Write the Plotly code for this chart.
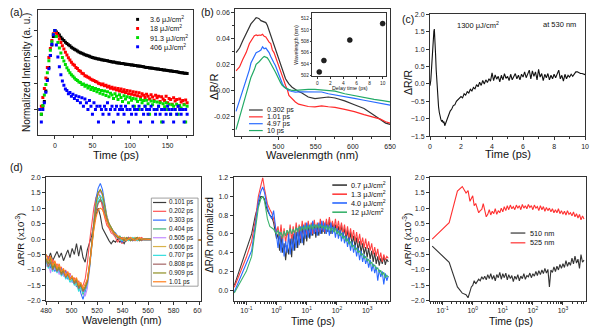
import plotly.graph_objects as go

W, H = 597, 330
FONT = "Liberation Sans, Arial, sans-serif"
AXC = "#333333"

# ---------------- (a) PL decay (log10 of normalized intensity) ----------------
t_a = [-20,-18,-16,-14,-12,-10,-8,-6,-4,-2,0,2,4,6,8,10,12,14,16,18,20,22,24,26,28,30,32,34,36,38,40,
       42,44,46,48,50,52,54,56,58,60,62,64,66,68,70,72,74,76,78,80,82,84,86,88,90,92,94,96,98,100,
       102,104,106,108,110,112,114,116,118,120,122,124,126,128,130,132,134,136,138,140,142,144,146,148,150,
       152,154,156,158,160,162,164,166,168,170,172,174,176]
a_labels = ["3.6 μJ/cm<sup>2</sup>", "18 μJ/cm<sup>2</sup>", "91.3 μJ/cm<sup>2</sup>", "406 μJ/cm<sup>2</sup>"]
a_colors = ["#000000", "#ff0000", "#00dd00", "#0000ff"]
a_black = [-3.00,-3.18,-2.88,-2.70,-2.30,-1.85,-1.40,-0.95,-0.55,-0.22,0.00,
 -0.05,-0.11,-0.17,-0.25,-0.32,-0.38,-0.44,-0.49,-0.54,-0.58,
 -0.63,-0.67,-0.71,-0.74,-0.78,-0.81,-0.84,-0.86,-0.89,-0.92,
 -0.94,-0.96,-0.98,-1.00,-1.02,-1.04,-1.05,-1.07,-1.08,-1.09,
 -1.11,-1.12,-1.13,-1.14,-1.15,-1.17,-1.18,-1.19,-1.19,-1.20,
 -1.22,-1.23,-1.23,-1.25,-1.25,-1.26,-1.28,-1.28,-1.29,-1.30,
 -1.31,-1.31,-1.33,-1.33,-1.35,-1.35,-1.36,-1.37,-1.38,-1.39,
 -1.40,-1.40,-1.42,-1.42,-1.43,-1.44,-1.45,-1.46,-1.46,-1.48,
 -1.48,-1.50,-1.50,-1.51,-1.52,-1.53,-1.54,-1.54,-1.56,-1.56,
 -1.57,-1.58,-1.59,-1.60,-1.60,-1.62,-1.62,-1.63]
a_red = [-3.00,-2.88,-2.55,-2.20,-1.80,-1.40,-1.02,-0.68,-0.38,-0.12,0.00,
 -0.10,-0.20,-0.32,-0.45,-0.58,-0.70,-0.82,-0.93,-1.03,-1.12,
 -1.20,-1.28,-1.32,-1.40,-1.44,-1.52,-1.55,-1.62,-1.64,-1.72,
 -1.74,-1.78,-1.80,-1.85,-1.88,-1.90,-1.94,-1.96,-2.00,-2.02,
 -2.06,-2.03,-2.10,-2.08,-2.15,-2.12,-2.19,-2.16,-2.22,-2.18,
 -2.26,-2.20,-2.30,-2.22,-2.33,-2.25,-2.36,-2.28,-2.40,-2.30,
 -2.42,-2.33,-2.45,-2.35,-2.48,-2.37,-2.52,-2.40,-2.46,-2.55,
 -2.42,-2.50,-2.60,-2.44,-2.53,-2.65,-2.46,-2.56,-2.50,-2.70,
 -2.52,-2.60,-2.66,-2.50,-2.75,-2.58,-2.62,-2.80,-2.56,-2.68,
 -2.62,-2.88,-2.60,-2.72,-2.66,-2.80,-2.64,-2.75]
a_green = [-3.00,-3.18,-2.85,-2.45,-2.05,-1.60,-1.15,-0.75,-0.42,-0.15,0.00,
 -0.22,-0.45,-0.66,-0.85,-1.02,-1.16,-1.29,-1.41,-1.51,-1.60,
 -1.68,-1.74,-1.80,-1.86,-1.90,-1.96,-1.98,-2.05,-2.03,-2.12,
 -2.08,-2.18,-2.12,-2.24,-2.17,-2.28,-2.20,-2.33,-2.24,-2.38,
 -2.28,-2.42,-2.30,-2.47,-2.33,-2.52,-2.38,-2.45,-2.58,-2.40,
 -2.50,-2.62,-2.44,-2.55,-2.70,-2.48,-2.60,-2.52,-2.75,-2.55,
 -2.65,-2.58,-2.88,-2.60,-2.70,-3.00,-2.62,-2.75,-2.66,-2.88,
 -2.65,-2.78,-3.18,-2.68,-2.82,-2.70,-3.00,-2.72,-2.88,-2.75,
 -3.48,-2.78,-2.90,-2.75,-3.00,-2.80,-3.18,-2.82,-2.88,-3.00,
 -2.80,-3.18,-2.85,-2.95,-3.00,-2.82,-3.48,-2.88]
a_blue = [-3.00,-3.48,-3.00,-2.75,-2.35,-1.90,-1.45,-0.95,-0.52,-0.16,0.00,
 -0.55,-1.00,-1.38,-1.68,-1.92,-2.08,-2.22,-2.28,-2.40,-2.36,
 -2.50,-2.42,-2.58,-2.48,-2.66,-2.52,-2.75,-2.56,-2.88,-2.60,
 -2.75,-3.00,-2.66,-2.88,-3.18,-2.75,-3.00,-2.88,-3.48,-2.88,
 -3.00,-3.18,-2.88,-3.00,-2.75,-3.18,-3.00,-2.88,-3.48,-3.00,
 -2.88,-3.18,-3.00,-2.88,-3.00,-3.18,-2.88,-3.00,-3.48,-3.00,
 -3.18,-2.88,-3.00,-3.18,-3.00,-2.88,-3.48,-3.00,-3.18,-2.88,
 -3.00,-3.18,-3.00,-2.88,-3.48,-3.00,-3.18,-3.00,-2.88,-3.18,
 -3.00,-3.48,-3.00,-3.18,-2.88,-3.00,-3.18,-3.00,-3.48,-3.00,
 -3.18,-2.88,-3.00,-3.18,-3.00,-3.48,-3.00,-3.18]

# ---------------- (b) spectra ----------------
b_labels = ["0.302 ps", "1.01 ps", "4.97 ps", "10 ps"]
b_colors = ["#333333", "#ff2a2a", "#2a6cff", "#22aa66"]
b_wl_black = [443,447.7,452,456.6,461,463,467.6,470,472,474,476.4,478.6,481,483,485,487.4,489.6,491.8,494,496,498.4,500.6,502.8,505,507.3,509.5,511.7,514,518.3,522.7,527,531.5,540,549,558,567,576,589,602,615,628.5,637,644,650]
b_val_black = [0.029,0.0325,0.038,0.044,0.049,0.051,0.054,0.0558,0.0555,0.055,0.0535,0.053,0.0525,0.052,0.050,0.046,0.042,0.039,0.036,0.032,0.028,0.024,0.020,0.016,0.0125,0.009,0.007,0.005,0.0025,0.0007,-0.0008,-0.002,-0.005,-0.0063,-0.0055,-0.005,-0.0058,-0.008,-0.011,-0.0138,-0.019,-0.0225,-0.025,-0.026]
b_wl_red = [443,447.7,452,456.6,461,465,467.6,470,472,474,476.4,478.6,480.8,483,485,487.4,489.6,491.8,494,496,498.4,500.6,502.8,505,507.3,509.5,512,514,518.3,522.7,527,531.5,540,549,558,567,576,589,602,615,628.5,637,644,650]
b_val_red = [0.015,0.018,0.0238,0.029,0.036,0.040,0.042,0.0425,0.042,0.0425,0.0423,0.043,0.0415,0.041,0.039,0.037,0.036,0.031,0.029,0.026,0.021,0.018,0.015,0.011,0.0075,0.0038,0.0005,-0.0038,-0.0065,-0.0088,-0.0105,-0.0113,-0.0123,-0.0125,-0.0118,-0.0125,-0.013,-0.0145,-0.0162,-0.0185,-0.0205,-0.022,-0.024,-0.025]
b_wl_blue = [443,447.7,450,452,456.6,461,463,467.6,470,474,476.4,478.6,480.8,483,485,487.4,489.6,491.8,494,496,498.4,500.6,502.8,505,507.3,509.5,514,518.3,522.7,531.5,540,549,558,567,589,602,615,628.5,640,650]
b_val_blue = [-0.016,-0.008,-0.004,0.0,0.0088,0.016,0.021,0.026,0.029,0.030,0.031,0.0335,0.032,0.0325,0.031,0.029,0.026,0.024,0.021,0.019,0.015,0.012,0.0088,0.0055,0.003,0.0018,0.0,-0.0008,-0.0012,-0.0010,-0.0009,-0.0010,-0.0012,-0.0025,-0.0045,-0.0060,-0.0075,-0.009,-0.0103,-0.0113]
b_wl_green = [443,447.7,452,456.6,461,463,467.6,470,474,476.4,478.6,480.8,483,485,487.4,489.6,491.8,494,496,498.4,500.6,502.8,505,507.3,509.5,514,518.3,522.7,531.5,540,549,558,567,576,589,602,615,628.5,640,650]
b_val_green = [-0.030,-0.021,-0.012,-0.0025,0.006,0.010,0.016,0.020,0.022,0.024,0.025,0.026,0.0255,0.025,0.023,0.021,0.019,0.016,0.014,0.011,0.008,0.006,0.004,0.0025,0.0018,0.0008,0.0,0.0,0.0005,0.0008,0.0008,0.0005,0.0,-0.0005,-0.0025,-0.0040,-0.0055,-0.0068,-0.0078,-0.0088]
inset_delay = [0.3, 1.01, 4.97, 10]
inset_peak = [502.6, 504.6, 508.2, 511.1]

# ---------------- (c) kinetics at 530 nm ----------------
t_c = [0,0.05,0.1,0.15,0.2,0.25,0.28,0.32,0.36,0.4,0.45,0.5,0.55,0.6,0.65,0.7,0.75,0.8,0.85,0.9,0.95,1.0,1.05,1.1,
       1.2,1.3,1.4,1.5,1.6,1.7,1.8,1.9,2.0,2.1,2.2,2.3,2.4,2.5,2.6,2.7,2.8,2.9,3.0,3.1,3.2,3.3,3.4,3.5,3.6,3.7,3.8,3.9,
       4.0,4.1,4.2,4.3,4.4,4.5,4.6,4.7,4.8,4.9,5.0,5.1,5.2,5.3,5.4,5.5,5.6,5.7,5.8,5.9,6.0,6.1,6.2,6.3,6.4,6.5,6.6,6.7,6.8,6.9,
       7.0,7.1,7.2,7.3,7.4,7.5,7.6,7.7,7.8,7.9,8.0,8.1,8.2,8.3,8.4,8.5,8.6,8.7,8.8,8.9,9.0,9.1,9.2,9.3,9.4,9.5,9.6,9.7,9.8,9.9,10.0]
v_c = [-0.05,0.1,0.45,0.95,1.3,1.52,1.58,1.3,0.85,0.4,-0.05,-0.4,-0.65,-0.82,-0.95,-1.02,-1.08,-1.04,-1.12,-1.08,-1.2,-1.15,-1.05,-1.0,
       -0.9,-0.78,-0.72,-0.62,-0.6,-0.5,-0.46,-0.4,-0.36,-0.4,-0.28,-0.32,-0.22,-0.26,-0.15,-0.2,-0.1,-0.14,-0.02,-0.08,0.05,-0.04,0.1,0.0,0.12,0.04,0.15,0.08,
       0.32,0.1,0.26,0.14,0.22,0.06,0.25,0.12,0.3,0.16,0.22,0.1,0.28,0.12,0.22,0.3,0.15,0.25,0.12,0.28,0.2,0.35,0.18,0.3,0.4,0.15,0.38,0.22,0.35,0.12,
       0.42,0.2,0.3,0.1,0.28,0.18,0.3,0.12,0.25,0.15,0.28,0.18,0.3,0.4,0.15,0.25,0.08,0.28,0.15,0.25,0.2,0.28,0.22,0.3,0.35,0.35,0.32,0.3,0.3,0.28,0.27]

# ---------------- (d) left: spectra at early delays (x1e-3) ----------------
wl_d = [480.0,481.7,483.4,485.1,486.8,488.5,490.2,491.9,493.6,495.3,497.0,498.7,500.4,502.1,503.8,505.5,507.2,508.9,510.6,512.3,
        514.0,515.7,517.4,519.1,520.8,522.5,524.2,525.9,527.6,529.3,531.0,532.7,534.4,536.1,537.8,539.5,541.2,542.9,544.6,546.3,
        548.0,549.7,551.4,553.1,554.8,556.5,565,573,581,589,596,601.5]
d_labels = ["0.101 ps","0.202 ps","0.303 ps","0.404 ps","0.505 ps","0.606 ps","0.707 ps","0.808 ps","0.909 ps","1.01 ps"]
d_colors = ["#3b3b3b","#ff5252","#2f6dff","#3fb273","#c28cff","#d9b24a","#33dede","#a36464","#8f8f22","#ff7f1e"]
d_vals = [
 [-0.5,-0.65,-0.45,-0.7,-0.55,-0.4,-0.6,-0.45,-0.7,-0.5,-0.35,-0.6,-0.3,-0.5,-0.15,-0.55,-0.2,-0.6,-0.75,-0.35,
  -0.1,0.1,0.45,0.8,1.0,0.75,0.35,0.2,0.1,-0.05,-0.15,-0.05,-0.1,0.0,-0.1,-0.05,-0.15,0.0,-0.05,0.0,
  -0.05,0.0,-0.05,0.0,0.0,-0.03,-0.03,0.0,-0.03,0.0,-0.03,-0.03],
 [-0.7,-0.55,-0.85,-0.65,-0.95,-0.8,-1.0,-0.9,-1.15,-1.0,-1.25,-1.1,-1.35,-1.25,-1.45,-1.35,-1.55,-1.5,-1.3,-0.8,
  -0.1,0.5,1.0,1.35,1.5,1.35,1.0,0.7,0.45,0.35,0.2,0.15,0.05,-0.1,0.05,-0.15,0.0,-0.05,0.05,-0.05,
  0.0,0.05,-0.05,0.0,0.05,0.0,0.0,-0.02,0.0,-0.02,-0.03,-0.03],
 [-0.8,-0.6,-0.95,-0.75,-1.05,-0.9,-1.1,-0.95,-1.2,-1.05,-1.3,-1.2,-1.4,-1.3,-1.55,-1.45,-1.75,-1.95,-1.7,-1.45,
  -0.9,-0.1,0.7,1.3,1.65,1.8,1.6,1.15,0.75,0.5,0.35,0.25,0.2,0.1,0.05,-0.1,0.0,-0.05,0.05,-0.05,
  0.0,-0.05,0.05,0.0,-0.05,0.0,-0.02,0.0,-0.02,-0.03,-0.03,-0.03],
 [-0.65,-0.85,-0.7,-0.95,-0.8,-1.05,-0.9,-1.1,-1.0,-1.25,-1.1,-1.3,-1.2,-1.45,-1.35,-1.65,-1.5,-1.8,-1.6,-1.35,
  -0.8,-0.15,0.5,0.95,1.2,1.3,1.2,0.9,0.6,0.45,0.3,0.25,0.15,0.05,0.1,0.0,0.05,-0.05,0.0,0.05,
  -0.05,0.0,0.05,-0.05,0.0,0.02,0.0,-0.02,0.0,-0.03,-0.03,-0.03],
 [-0.9,-0.7,-1.1,-0.8,-1.0,-0.85,-1.15,-1.0,-1.2,-1.1,-1.25,-1.15,-1.4,-1.3,-1.5,-1.4,-1.65,-1.55,-1.85,-1.6,
  -1.0,-0.2,0.55,1.1,1.45,1.55,1.4,1.0,0.7,0.5,0.3,0.2,0.15,0.05,0.0,0.05,-0.05,0.0,0.05,0.0,
  -0.05,0.05,0.0,-0.05,0.0,0.0,0.0,-0.02,-0.02,0.0,-0.03,-0.03],
 [-0.6,-0.8,-0.65,-0.9,-0.75,-1.0,-0.85,-1.15,-1.05,-1.2,-1.15,-1.35,-1.25,-1.4,-1.5,-1.4,-1.6,-1.7,-1.55,-1.4,
  -0.85,-0.1,0.6,1.15,1.5,1.6,1.45,1.05,0.7,0.5,0.35,0.25,0.15,0.1,0.0,0.05,-0.05,0.05,0.0,-0.05,
  0.0,0.05,0.0,0.0,-0.05,0.0,-0.02,0.0,-0.02,0.0,-0.03,-0.03],
 [-0.75,-0.95,-0.8,-1.05,-0.85,-1.1,-0.95,-1.2,-1.05,-1.3,-1.2,-1.4,-1.3,-1.5,-1.4,-1.7,-1.55,-1.75,-1.65,-1.45,
  -0.95,-0.25,0.5,1.0,1.3,1.4,1.3,0.95,0.65,0.45,0.3,0.2,0.1,0.05,0.0,-0.05,0.05,0.0,-0.05,0.0,
  0.05,0.0,-0.05,0.0,0.0,-0.02,-0.02,-0.02,0.0,-0.02,-0.03,-0.03],
 [-0.7,-0.9,-0.75,-1.0,-0.85,-1.05,-0.95,-1.15,-1.05,-1.25,-1.15,-1.3,-1.25,-1.45,-1.35,-1.6,-1.5,-1.7,-1.6,-1.4,
  -0.9,-0.2,0.45,0.9,1.15,1.25,1.15,0.85,0.6,0.4,0.3,0.2,0.1,0.05,0.0,0.05,-0.05,0.0,0.05,0.0,
  -0.05,0.0,0.05,0.0,-0.05,0.0,0.0,-0.02,0.0,-0.02,-0.03,-0.03],
 [-0.65,-0.8,-0.6,-0.95,-0.8,-1.0,-0.9,-1.1,-1.0,-1.2,-1.1,-1.3,-1.2,-1.4,-1.3,-1.55,-1.45,-1.65,-1.55,-1.35,
  -0.85,-0.15,0.55,1.15,1.5,1.6,1.45,1.05,0.7,0.5,0.35,0.25,0.15,0.05,0.05,0.0,-0.05,0.05,0.0,-0.05,
  0.0,0.0,0.05,-0.05,0.0,0.0,-0.02,0.0,-0.02,0.0,-0.03,-0.03],
 [-0.5,-0.7,-0.55,-0.85,-0.7,-0.95,-0.8,-1.05,-0.95,-1.2,-1.05,-1.3,-1.2,-1.35,-1.25,-1.5,-1.4,-1.6,-1.45,-1.3,
  -0.85,-0.25,0.3,0.7,0.95,1.0,0.95,0.75,0.55,0.4,0.3,0.2,0.15,0.1,0.05,0.0,0.05,-0.05,0.0,0.05,
  0.0,-0.05,0.0,0.05,0.0,0.0,-0.03,-0.03,-0.03,-0.03,-0.03,-0.03],
]

# ---------------- (d) middle: normalized kinetics ----------------
t_log = [1.0,1.12,1.26,1.41,1.58,1.78,2.0,2.24,2.51,2.82,3.16,3.55,3.98,4.47,5.01,5.62,6.31,7.08,7.94,8.91,
         10,11.2,12.6,14.1,15.8,17.8,20,22.4,25.1,28.2,31.6,35.5,39.8,44.7,50.1,56.2,63.1,70.8,79.4,89.1,
         100,112,126,141,158,178,200,224,251,282,316,355,398,447,501,562,631,708,794,891,
         1000,1122,1259,1413,1585,1778,1995,2239,2512,2818,3162,3548,3981,4467,5012]
t_mid_early = [0.04,0.1,0.15,0.2,0.25,0.3,0.35,0.4,0.45,0.5,0.6,0.7,0.8,0.9]
m_labels = ["0.7 μJ/cm<sup>2</sup>", "1.3 μJ/cm<sup>2</sup>", "4.0 μJ/cm<sup>2</sup>", "12 μJ/cm<sup>2</sup>"]
m_colors = ["#3a3a3a", "#ff4040", "#2a68ff", "#3cb36e"]
m_vals = [
 [0.05,0.42,0.6,0.8,0.92,1.0,1.0,0.97,0.9,0.85,0.8,0.78,0.72,0.62,
  0.55,0.6,0.42,0.58,0.4,0.5,0.32,0.48,0.38,0.55,0.35,0.6,0.42,0.62,0.45,0.65,0.5,0.7,0.48,0.66,
  0.52,0.7,0.55,0.68,0.58,0.72,0.56,0.7,0.58,0.72,0.6,0.7,0.6,0.74,0.62,0.76,0.6,0.72,0.62,0.7,
  0.6,0.68,0.58,0.7,0.56,0.66,0.55,0.64,0.5,0.62,0.48,0.58,0.46,0.56,0.42,0.52,0.4,0.5,0.38,0.46,
  0.35,0.45,0.33,0.42,0.3,0.4,0.28,0.36,0.26,0.34,0.28,0.36,0.27,0.33,0.3],
 [0.03,0.35,0.52,0.75,1.0,1.1,1.2,1.08,0.98,0.92,0.86,0.82,0.76,0.68,
  0.62,0.68,0.55,0.7,0.52,0.66,0.5,0.64,0.55,0.7,0.52,0.68,0.56,0.72,0.58,0.7,0.55,0.74,0.6,0.72,
  0.6,0.74,0.62,0.72,0.6,0.75,0.62,0.72,0.62,0.76,0.64,0.74,0.62,0.76,0.65,0.78,0.64,0.74,0.65,0.76,
  0.64,0.74,0.62,0.72,0.6,0.7,0.58,0.68,0.56,0.66,0.55,0.64,0.52,0.62,0.5,0.6,0.48,0.56,0.45,0.55,
  0.44,0.52,0.42,0.5,0.38,0.46,0.36,0.44,0.32,0.4,0.3,0.38,0.32,0.36,0.34],
 [-0.02,0.28,0.42,0.7,0.95,1.05,1.1,1.04,0.95,0.88,0.8,0.76,0.85,0.66,
  0.58,0.45,0.62,0.4,0.55,0.36,0.52,0.4,0.6,0.38,0.55,0.42,0.62,0.45,0.66,0.48,0.68,0.5,0.7,0.55,
  0.72,0.56,0.7,0.58,0.74,0.6,0.7,0.58,0.72,0.6,0.74,0.62,0.72,0.6,0.7,0.58,0.72,0.6,0.68,0.56,
  0.66,0.55,0.64,0.52,0.62,0.5,0.58,0.46,0.56,0.42,0.52,0.4,0.48,0.36,0.45,0.32,0.42,0.3,0.38,0.28,
  0.34,0.24,0.32,0.2,0.28,0.18,0.25,0.1,0.22,0.14,0.2,0.06,0.18,0.1,0.15],
 [-0.03,0.2,0.36,0.65,0.88,0.97,1.0,0.95,0.86,0.76,0.68,0.66,0.65,0.62,
  0.6,0.64,0.58,0.62,0.56,0.63,0.58,0.64,0.6,0.66,0.6,0.65,0.61,0.67,0.62,0.68,0.63,0.68,0.64,0.69,
  0.64,0.69,0.65,0.7,0.65,0.7,0.66,0.7,0.66,0.7,0.66,0.69,0.65,0.69,0.64,0.68,0.63,0.67,0.62,0.66,
  0.6,0.63,0.58,0.61,0.55,0.58,0.52,0.55,0.49,0.52,0.46,0.48,0.43,0.45,0.4,0.42,0.37,0.39,0.34,0.36,
  0.31,0.33,0.28,0.3,0.25,0.27,0.22,0.24,0.19,0.21,0.16,0.19,0.13,0.16,0.14],
]

# ---------------- (d) right: kinetics at 510 / 525 nm (x1e-3) ----------------
t_right_early = [0.045,0.165,0.31,0.45,0.6,0.7,0.81,0.9]
r_labels = ["510 nm", "525 nm"]
r_colors = ["#333333", "#ff3030"]
r_vals = [
 [-0.23,-0.75,-1.55,-1.75,-1.8,-1.9,-1.7,-1.55,
  -1.5,-1.35,-1.45,-1.38,-1.3,-1.35,-1.22,-1.3,-1.2,-1.32,-1.15,-1.28,-1.12,-1.3,-1.18,-1.35,-1.15,-1.25,-1.08,-1.3,
  -1.12,-1.25,-1.1,-1.32,-1.15,-1.28,-1.18,-1.38,-1.2,-1.3,-1.15,-1.35,-1.2,-1.28,-1.12,-1.3,-1.18,-1.22,-1.1,-1.25,
  -1.12,-1.2,-1.05,-1.18,-1.02,-1.15,-1.0,-1.12,-0.95,-1.1,-0.98,-1.55,-1.0,-1.08,-0.9,-1.05,-0.88,-1.0,-0.82,-0.95,
  -0.8,-0.92,-0.7,-0.88,-0.75,-0.85,-0.62,-0.8,-0.55,-0.78,-0.65,-0.95,-0.5,-0.75,-0.68],
 [0.0,0.53,1.55,1.70,1.49,1.57,1.22,1.3,
  1.40,1.08,1.15,1.0,0.85,0.92,0.96,1.15,0.88,0.72,0.8,0.95,0.78,0.9,0.82,0.98,0.8,0.92,0.85,1.0,
  0.88,1.05,0.92,1.08,0.95,1.1,0.98,1.05,0.95,1.1,1.0,1.08,0.95,1.12,1.0,1.08,0.98,1.12,1.02,1.08,
  0.95,1.1,1.0,1.05,0.92,1.08,0.95,1.05,0.9,1.02,0.92,1.0,0.88,0.98,0.85,0.95,0.85,0.98,0.82,0.92,
  0.8,0.9,0.78,0.92,0.8,0.85,0.75,0.88,0.72,0.82,0.68,0.8,0.62,0.75,0.65],
]

# ================= layout helpers =================
def dx(a, b):
    return [a / W, b / W]

def dy(top, bottom):
    return [1 - bottom / H, 1 - top / H]

def px(x):
    return x / W

def py(y):
    return 1 - y / H

def axis(**kw):
    base = dict(showline=True, linecolor=AXC, linewidth=1, mirror=True, ticks="outside", ticklen=3,
                tickwidth=1, tickcolor=AXC, showgrid=False, zeroline=False,
                tickfont=dict(family=FONT, size=7, color="#222"))
    base.update(kw)
    return base

MINOR = dict(ticks="outside", ticklen=2, tickcolor=AXC, showgrid=False)

fig = go.Figure()

# (a)
for vals, col in zip([a_black, a_red, a_green, a_blue], a_colors):
    fig.add_trace(go.Scatter(x=t_a, y=[10 ** v for v in vals], mode="markers", xaxis="x", yaxis="y",
                             marker=dict(symbol="square", size=3, color=col, line=dict(width=0))))
# (b)
for wl, v, col in zip([b_wl_black, b_wl_red, b_wl_blue, b_wl_green],
                      [b_val_black, b_val_red, b_val_blue, b_val_green], b_colors):
    fig.add_trace(go.Scatter(x=wl, y=v, mode="lines", xaxis="x2", yaxis="y2", line=dict(color=col, width=1.2)))
fig.add_trace(go.Scatter(x=inset_delay, y=inset_peak, mode="markers", xaxis="x3", yaxis="y3",
                         marker=dict(size=5, color="#222", line=dict(width=0.5, color="#000"))))
# (c)
fig.add_trace(go.Scatter(x=t_c, y=v_c, mode="lines", xaxis="x4", yaxis="y4", line=dict(color="#111", width=1.1)))
# (d) left
for v, col in zip(d_vals, d_colors):
    fig.add_trace(go.Scatter(x=wl_d, y=v, mode="lines", xaxis="x5", yaxis="y5", line=dict(color=col, width=1.1)))
# (d) middle
t_mid = t_mid_early + t_log
for v, col in zip(m_vals, m_colors):
    fig.add_trace(go.Scatter(x=t_mid, y=v, mode="lines", xaxis="x6", yaxis="y6", line=dict(color=col, width=1.1)))
# (d) right
t_right = t_right_early + t_log
for v, col in zip(r_vals, r_colors):
    fig.add_trace(go.Scatter(x=t_right, y=v, mode="lines", xaxis="x7", yaxis="y7", line=dict(color=col, width=1.1)))

log_tv = [0.1, 1, 10, 100, 1000]
log_tt = ["10<sup>-1</sup>", "10<sup>0</sup>", "10<sup>1</sup>", "10<sup>2</sup>", "10<sup>3</sup>"]
INSET_FONT = dict(family=FONT, size=4.8, color="#222")

fig.update_layout(
    width=W, height=H, margin=dict(l=0, r=0, t=0, b=0), showlegend=False,
    paper_bgcolor="white", plot_bgcolor="white",
    xaxis=axis(domain=dx(33, 191), anchor="y", range=[-22, 184], tickvals=[0, 50, 100, 150],
               minor=dict(MINOR, dtick=25)),
    yaxis=axis(domain=dy(6, 134), anchor="x", type="log", range=[-3.98, 0.79],
               tickvals=[0.001, 0.01, 0.1, 1], showticklabels=False),
    xaxis2=axis(domain=dx(234, 392), anchor="y2", range=[442, 650], tickvals=[500, 550, 600, 650],
                minor=dict(MINOR, dtick=25)),
    yaxis2=axis(domain=dy(5, 135), anchor="x2", range=[-0.035, 0.0625],
                tickvals=[-0.02, 0, 0.02, 0.04, 0.06], ticktext=["-0.02", "0.00", "0.02", "0.04", "0.06"],
                minor=dict(MINOR, dtick=0.01)),
    xaxis3=axis(domain=dx(312.7, 387.7), anchor="y3", range=[-0.75, 10.5], tickvals=[0, 2, 4, 6, 8, 10],
                ticklen=1.5, tickfont=INSET_FONT),
    yaxis3=axis(domain=dy(9, 74), anchor="x3", range=[501.8, 513], tickvals=[502, 504, 506, 508, 510, 512],
                ticklen=1.5, tickfont=INSET_FONT),
    xaxis4=axis(domain=dx(432.7, 591), anchor="y4", range=[0, 10], tickvals=[0, 2, 4, 6, 8, 10],
                minor=dict(MINOR, dtick=1)),
    yaxis4=axis(domain=dy(10.7, 135), anchor="x4", range=[-1.5, 2.0], tickvals=[-1.5, -1, -0.5, 0, 0.5, 1, 1.5, 2],
                tickformat=".1f"),
    xaxis5=axis(domain=dx(41, 199), anchor="y5", range=[480, 601.5], tickvals=[480, 500, 520, 540, 560, 580, 600],
                minor=dict(MINOR, dtick=10)),
    yaxis5=axis(domain=dy(177, 303.3), anchor="x5", range=[-2, 2],
                tickvals=[-2, -1.5, -1, -0.5, 0, 0.5, 1, 1.5, 2], tickformat=".1f"),
    xaxis6=axis(domain=dx(232.3, 392), anchor="y6", type="log", range=[-1.42, 3.76], tickvals=log_tv,
                ticktext=log_tt, minor=dict(MINOR, tickmode="linear", dtick="D1")),
    yaxis6=axis(domain=dy(177, 303.3), anchor="x6", range=[-0.115, 1.205],
                tickvals=[0, 0.2, 0.4, 0.6, 0.8, 1.0, 1.2], tickformat=".1f"),
    xaxis7=axis(domain=dx(432.7, 591.7), anchor="y7", type="log", range=[-1.42, 3.76], tickvals=log_tv,
                ticktext=log_tt, minor=dict(MINOR, tickmode="linear", dtick="D1")),
    yaxis7=axis(domain=dy(177, 303.3), anchor="x7", range=[-2, 2],
                tickvals=[-2, -1.5, -1, -0.5, 0, 0.5, 1, 1.5, 2], tickformat=".1f"),
)

shapes = []
annotations = []

def text(s, x, y, size, xanchor="center", yanchor="middle", angle=0, color="#111"):
    annotations.append(dict(text=s, x=px(x), y=py(y), xref="paper", yref="paper", showarrow=False,
                            xanchor=xanchor, yanchor=yanchor, textangle=angle,
                            font=dict(family=FONT, size=size, color=color)))

def legend_lines(x0, x1, ys, labels, colors, tx, size, width=1.2):
    for y, lab, c in zip(ys, labels, colors):
        shapes.append(dict(type="line", xref="paper", yref="paper", x0=px(x0), x1=px(x1), y0=py(y), y1=py(y),
                           line=dict(color=c, width=width)))
        text(lab, tx, y, size, xanchor="left")

# the neighbouring panel's picture hides the right end of the (d) wavelength axis in the original
shapes.append(dict(type="rect", xref="paper", yref="paper", x0=px(199.6), x1=px(206), y0=py(318), y1=py(306),
                   fillcolor="white", line=dict(width=0), layer="above"))

# panel labels
text("(a)", 2, 8, 10.5, xanchor="left")
text("(b)", 197, 8, 10.5, xanchor="left")
text("(c)", 402, 15, 10.5, xanchor="left")
text("(d)", 2, 167, 10.5, xanchor="left")

# axis titles
text("Time (ps)", 112, 154, 11)
text("Normalized Intensity (a. u.)", 21, 70, 10, angle=-90)
text("Wavelenmgth (nm)", 313, 154, 11)
text("ΔR/R", 212, 85, 11, angle=-90)
text("Wavelength (nm)", 296, 41.5, 5.2, angle=-90)
text("Delay time (ps)", 351, 85.5, 5.3)
text("Time (ps)", 512, 153, 11)
text("ΔR/R", 411, 80, 10.5, angle=-90)
text("1300 μJ/cm<sup>2</sup>", 482, 21, 7.5)
text("at 530 nm", 565, 21, 7.5)
text("Wavelength (nm)", 118, 323, 10.5)
text("ΔR/R (x10<sup>-3</sup>)", 14, 240, 9.5, angle=-90)
text("Time (ps)", 313, 323.5, 10.5)
text("ΔR/R normalized", 208, 236, 10, angle=-90)
text("Time (ps)", 515, 323.5, 10.5)
text("ΔR/R (x10<sup>-3</sup>)", 409, 240, 9.5, angle=-90)

# legend (a): square markers
for y, lab, c in zip([15.7, 25, 34.3, 43.7], a_labels, a_colors):
    shapes.append(dict(type="rect", xref="paper", yref="paper", x0=px(132.8), x1=px(135.8), y0=py(y + 1.5),
                       y1=py(y - 1.5), fillcolor=c, line=dict(width=0)))
    text(lab, 144.5, y, 7.2, xanchor="left")

# legend (b)
legend_lines(248, 262, [108.3, 115.3, 122.3, 129.3], b_labels, b_colors, 264, 7)

# legend (d) left, boxed
shapes.append(dict(type="rect", xref="paper", yref="paper", x0=px(148.3), x1=px(196), y0=py(288.3), y1=py(198.3),
                   fillcolor="white", line=dict(color="#888", width=0.8), layer="above"))
legend_lines(150, 163.5, [202.8 + 9 * i for i in range(10)], d_labels, d_colors, 164.5, 6.3)

# legend (d) middle
legend_lines(333, 348, [185, 194.3, 203.3, 212.7], m_labels, m_colors, 350.5, 7.3, width=1.6)

# legend (d) right
legend_lines(515, 530, [234, 244], r_labels, r_colors, 532.5, 7.3)

fig.update_layout(shapes=shapes, annotations=annotations)
fig.write_html("out.html")
